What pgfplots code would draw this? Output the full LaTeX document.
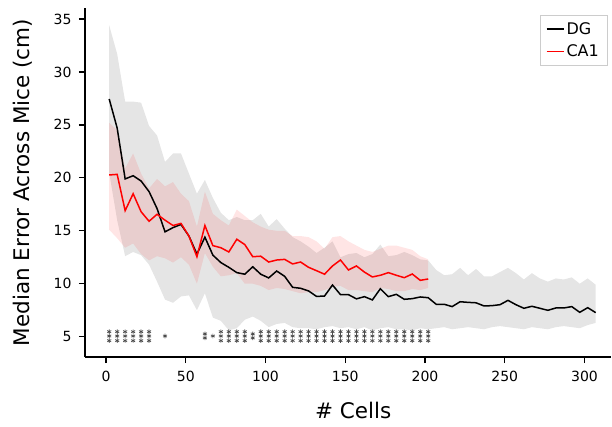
\documentclass[border=0pt]{standalone}
\usepackage{fontspec}
\setmainfont{DejaVu Sans}
\usepackage{pgfplots}
\usepackage{pgfplotstable}
\pgfplotsset{compat=1.18}

% median decoding error across mice, n = number of cells
\pgfplotstableread{
n med
2 27.45
7 24.7
12 19.9
17 20.2
22 19.7
27 18.7
32 17.1
37 14.9
42 15.3
47 15.6
52 14.5
57 12.8
62 14.4
67 12.7
72 12.0
77 11.55
82 11.05
87 10.9
92 11.6
97 10.9
102 10.55
107 11.2
112 10.7
117 9.66
122 9.57
127 9.32
132 8.8
137 8.84
142 9.88
147 8.97
152 8.97
157 8.57
162 8.78
167 8.47
172 9.53
177 8.78
182 9.0
187 8.53
192 8.59
197 8.75
202 8.68
207 8.06
212 8.06
217 7.84
222 8.3
227 8.24
232 8.2
237 7.9
242 7.93
247 8.02
252 8.43
257 8.02
262 7.68
267 7.87
272 7.68
277 7.49
282 7.71
287 7.71
292 7.84
297 7.3
302 7.74
307 7.27
}\dgtable

\pgfplotstableread{
n med
2 20.27
7 20.33
12 16.9
17 18.5
22 16.8
27 15.9
32 16.56
37 16.0
42 15.5
47 15.7
52 14.5
57 12.55
62 15.5
67 13.6
72 13.4
77 13.0
82 14.2
87 13.7
92 12.55
97 12.6
102 12.05
107 12.24
112 12.3
117 11.87
122 12.05
127 11.55
132 11.23
137 10.9
142 11.68
147 12.24
152 11.3
157 11.68
162 11.1
167 10.64
172 10.8
177 11.05
182 10.8
187 10.57
192 10.92
197 10.32
202 10.45
}\catable

% spread bands: upper edge left to right, then lower edge right to left
\pgfplotstableread{
n y
2 34.4
7 31.7
12 27.2
17 27.2
22 27.1
27 24.9
32 24.0
37 21.5
42 22.3
47 22.3
52 20.4
57 18.5
62 19.8
67 18.1
72 16.7
77 16.0
82 16.3
87 16.0
92 16.0
97 16.6
102 15.4
107 16.1
112 15.2
117 14.4
122 14.0
127 13.5
132 12.9
137 13.4
142 14.0
147 12.5
152 12.8
157 12.9
162 12.5
167 12.8
172 13.7
177 12.6
182 12.7
187 13.0
192 12.7
197 12.3
202 12.2
207 11.3
212 10.8
217 10.9
222 11.5
227 10.8
232 11.4
237 10.7
242 10.7
247 11.1
252 11.5
257 11.0
262 10.4
267 11.0
272 10.5
277 10.2
282 10.5
287 10.4
292 10.6
297 10.0
302 10.5
307 9.9
307 6.3
302 6.1
297 5.8
292 5.9
287 6.0
282 5.9
277 5.7
272 5.8
267 5.9
262 5.7
257 5.8
252 5.9
247 6.0
242 5.9
237 5.7
232 5.8
227 5.9
222 5.8
217 5.7
212 5.9
207 5.8
202 5.7
197 5.8
192 5.6
187 5.7
182 5.7
177 5.9
172 5.8
167 5.6
162 5.9
157 5.7
152 5.9
147 5.8
142 6.0
137 5.9
132 5.7
127 5.8
122 5.8
117 5.9
112 6.3
107 6.2
102 5.9
97 6.5
92 6.9
87 6.6
82 5.8
77 5.6
72 6.5
67 6.8
62 9.1
57 7.5
52 8.9
47 8.8
42 8.2
37 8.5
32 10.2
27 11.8
22 12.7
17 13.0
12 12.6
7 16.0
2 20.5
}\dgband

\pgfplotstableread{
n y
2 25.2
7 24.5
12 20.9
17 22.3
22 20.4
27 19.0
32 19.9
37 19.2
42 19.6
47 18.5
52 17.8
57 15.4
62 18.7
67 16.6
72 16.0
77 15.5
82 17.0
87 16.4
92 15.8
97 15.4
102 15.1
107 15.0
112 15.0
117 14.5
122 14.5
127 14.4
132 14.0
137 13.3
142 14.4
147 14.5
152 14.0
157 13.6
162 13.2
167 13.0
172 13.3
177 13.6
182 13.6
187 13.4
192 13.2
197 12.6
202 12.3
202 9.6
197 9.4
192 9.5
187 9.3
182 9.3
177 9.5
172 9.6
167 9.2
162 9.3
157 9.4
152 9.4
147 9.8
142 9.7
137 9.4
132 9.2
127 9.2
122 9.1
117 9.3
112 9.5
107 9.6
102 9.4
97 9.8
92 10.0
87 10.0
82 11.0
77 10.8
72 10.7
67 11.6
62 12.9
57 10.0
52 11.8
47 12.5
42 12.0
37 12.4
32 12.6
27 12.2
22 12.8
17 13.8
12 13.4
7 14.3
2 15.1
}\caband

% significance asterisks, stacked vertically
\pgfplotstableread{
n y
2 5.47
2 5.06
2 4.62
7 5.47
7 5.06
7 4.62
12 5.47
12 5.06
12 4.62
17 5.47
17 5.06
17 4.62
22 5.47
22 5.06
22 4.62
27 5.47
27 5.06
27 4.62
37 5.06
62 5.26
62 4.88
67 5.06
72 5.47
72 5.06
72 4.62
77 5.47
77 5.06
77 4.62
82 5.47
82 5.06
82 4.62
87 5.47
87 5.06
87 4.62
92 5.26
92 4.88
97 5.47
97 5.06
97 4.62
102 5.47
102 5.06
102 4.62
107 5.47
107 5.06
107 4.62
112 5.47
112 5.06
112 4.62
117 5.47
117 5.06
117 4.62
122 5.47
122 5.06
122 4.62
127 5.47
127 5.06
127 4.62
132 5.47
132 5.06
132 4.62
137 5.47
137 5.06
137 4.62
142 5.47
142 5.06
142 4.62
147 5.47
147 5.06
147 4.62
152 5.47
152 5.06
152 4.62
157 5.47
157 5.06
157 4.62
162 5.47
162 5.06
162 4.62
167 5.47
167 5.06
167 4.62
172 5.47
172 5.06
172 4.62
177 5.47
177 5.06
177 4.62
182 5.47
182 5.06
182 4.62
187 5.47
187 5.06
187 4.62
192 5.47
192 5.06
192 4.62
197 5.47
197 5.06
197 4.62
202 5.47
202 5.06
202 4.62
}\startable

\begin{document}
\begin{tikzpicture}
\begin{axis}[
  scale only axis,
  width=526pt, height=349pt,
  xmin=-13.17, xmax=316.6,
  ymin=3.08, ymax=36.04,
  axis x line*=bottom, axis y line*=left,
  axis line style={line width=2.4pt, -},
  xtick={0,50,...,300},
  ytick={5,10,...,35},
  tick align=outside,
  major tick length=6pt,
  tick style={line width=1.3pt, black},
  /pgf/number format/assume math mode=true,
  ticklabel style={font=\fontsize{14}{17}\selectfont},
  xticklabel style={yshift=-5pt},
  yticklabel style={xshift=-4pt},
  xlabel={\# Cells},
  ylabel={Median Error Across Mice (cm)},
  label style={font=\fontsize{21.5}{26}\selectfont},
  xlabel style={at={(axis description cs:0.51,-0.152)}, anchor=center},
  ylabel style={at={(axis description cs:-0.118,0.5)}, anchor=center, rotate=0},
  legend cell align=left,
  legend style={at={(rel axis cs:1,1)}, anchor=north east,
    xshift=-4pt, yshift=-7pt,
    draw=black!20, fill=white,
    font=\fontsize{16}{19}\selectfont,
    inner xsep=6pt, inner ysep=5pt,
    row sep=5pt},
]
% spread bands
\addplot[fill=black, fill opacity=0.1, draw=none, forget plot] table[x=n, y=y] {\dgband};
\addplot[fill=red, fill opacity=0.1, draw=none, forget plot] table[x=n, y=y] {\caband};
% asterisks
\addplot[only marks, mark=asterisk, mark size=2.3pt, black!70, line width=0.7pt, forget plot] table[x=n, y=y] {\startable};
% medians
\addplot[black, line width=1.5pt, no marks] table[x=n, y=med] {\dgtable};
\addlegendentry{DG}
\addplot[red, line width=1.5pt, no marks] table[x=n, y=med] {\catable};
\addlegendentry{CA1}
\end{axis}
\pgfresetboundingbox
\path ([shift={(-85pt,-69pt)}]current axis.south west) rectangle ([shift={(527pt,357pt)}]current axis.south west);
\end{tikzpicture}
\end{document}
